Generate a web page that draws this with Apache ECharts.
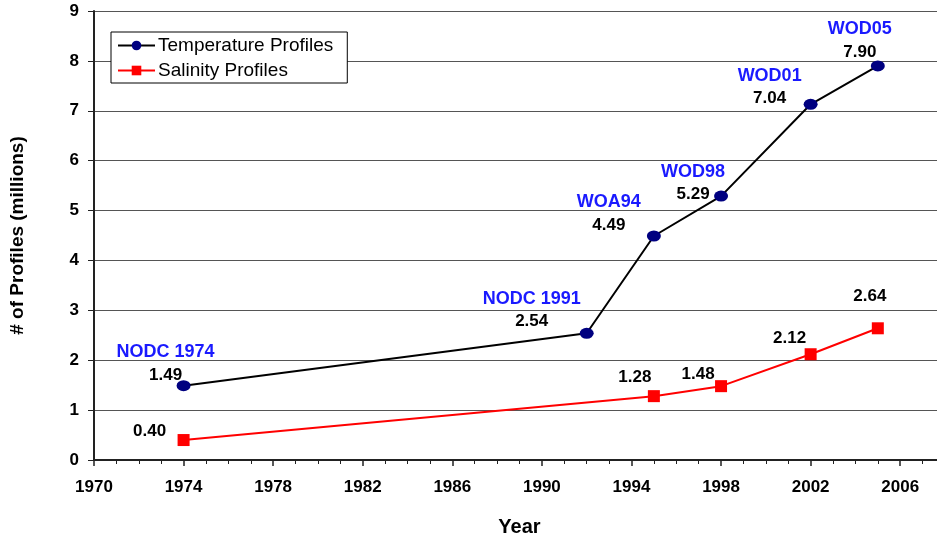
<!DOCTYPE html>
<html>
<head>
<meta charset="utf-8">
<script src="https://cdn.jsdelivr.net/npm/echarts@6/dist/echarts.min.js"></script>
<style>
  html, body { margin: 0; padding: 0; background: #fff; }
  #chart { width: 937px; height: 537px; }
</style>
</head>
<body>
<div id="chart"></div>
<script>
// data
const tempYears = [1974, 1992, 1995, 1998, 2002, 2005]
const tempValues = [1.49, 2.54, 4.49, 5.29, 7.13, 7.90]
const tempValueText = ['1.49', '2.54', '4.49', '5.29', '7.04', '7.90']
const datasetNames = ['NODC 1974', 'NODC 1991', 'WOA94', 'WOD98', 'WOD01', 'WOD05']

const salYears = [1974, 1995, 1998, 2002, 2005]
const salValues = [0.40, 1.28, 1.48, 2.12, 2.64]
const salValueText = ['0.40', '1.28', '1.48', '2.12', '2.64']

// label placement relative to each point (px)
const tempLabelOffsets = [[-18, -22], [-55, -23], [-45, -22], [-28, -13], [-41, -17], [-18, -25]]
const salLabelOffsets = [[-34, -9], [-19, -19], [-23, -12], [-21, -16], [-8, -32]]

const FONT = '"Liberation Sans", Arial, sans-serif'

const chart = echarts.init(document.getElementById('chart'))

const tempData = tempYears.map((yr, i) => ({
  value: [yr, tempValues[i]],
  label: { offset: tempLabelOffsets[i] }
}))
const salData = salYears.map((yr, i) => ({
  value: [yr, salValues[i]],
  label: { offset: salLabelOffsets[i] }
}))

const option = {
  backgroundColor: '#fff',
  animation: false,
  textStyle: { fontFamily: FONT },
  grid: {
    left: 94,
    right: -8,
    top: 11,
    bottom: 77,
    outerBoundsMode: 'none'
  },
  legend: {
    orient: 'vertical',
    left: 111,
    top: 32,
    data: ['Temperature Profiles', 'Salinity Profiles'],
    backgroundColor: '#fff',
    borderColor: '#000',
    borderWidth: 1,
    borderRadius: 0,
    padding: [4, 14, 3, 6],
    itemGap: 6,
    itemWidth: 37,
    itemHeight: 12,
    textStyle: { fontFamily: FONT, fontSize: 19, color: '#000', padding: [0, 0, 0, -2] }
  },
  xAxis: {
    type: 'value',
    min: 1970,
    max: 2008,
    interval: 4,
    name: 'Year',
    nameLocation: 'middle',
    nameGap: 57,
    nameTextStyle: { fontFamily: FONT, fontSize: 20, fontWeight: 'bold', color: '#000' },
    axisLine: { show: true, lineStyle: { color: '#222', width: 2 } },
    axisTick: { show: true, length: 6, lineStyle: { color: '#222', width: 1.5 } },
    minorTick: { show: true, splitNumber: 4, length: 4, lineStyle: { color: '#222', width: 1 } },
    axisLabel: {
      margin: 19,
      fontSize: 17,
      fontWeight: 'bold',
      color: '#000',
      showMaxLabel: false,
      formatter: v => String(v)
    },
    splitLine: { show: false }
  },
  yAxis: {
    type: 'value',
    min: 0,
    max: 9,
    interval: 1,
    name: '# of Profiles (millions)',
    nameLocation: 'middle',
    nameGap: 67,
    nameTextStyle: { fontFamily: FONT, fontSize: 19, fontWeight: 'bold', color: '#000' },
    axisLine: { show: true, lineStyle: { color: '#222', width: 2 } },
    axisTick: { show: true, length: 6, lineStyle: { color: '#222', width: 1 } },
    axisLabel: { margin: 15, fontSize: 17, fontWeight: 'bold', color: '#000' },
    splitLine: { show: true, lineStyle: { color: '#555', width: 1 } }
  },
  series: [
    {
      name: 'Temperature Profiles',
      type: 'line',
      data: tempData,
      symbol: 'circle',
      symbolSize: [14, 11],
      itemStyle: { color: '#000080' },
      lineStyle: { color: '#000', width: 2 },
      z: 3,
      label: {
        show: true,
        position: 'inside',
        align: 'center',
        verticalAlign: 'middle',
        formatter: p => '{n|' + datasetNames[p.dataIndex] + '}\n{v|' + tempValueText[p.dataIndex] + '}',
        rich: {
          n: { fontFamily: FONT, fontSize: 18, fontWeight: 'bold', color: '#1a1aff', lineHeight: 23, align: 'center' },
          v: { fontFamily: FONT, fontSize: 17, fontWeight: 'bold', color: '#000', lineHeight: 23, align: 'center' }
        }
      }
    },
    {
      name: 'Salinity Profiles',
      type: 'line',
      data: salData,
      symbol: 'rect',
      symbolSize: 12,
      itemStyle: { color: '#ff0000' },
      lineStyle: { color: '#ff0000', width: 2 },
      z: 3,
      label: {
        show: true,
        position: 'inside',
        align: 'center',
        verticalAlign: 'middle',
        fontFamily: FONT,
        fontSize: 17,
        fontWeight: 'bold',
        color: '#000',
        formatter: p => salValueText[p.dataIndex]
      }
    }
  ]
}

chart.setOption(option)

window.addEventListener('resize', () => chart.resize())
</script>
</body>
</html>
